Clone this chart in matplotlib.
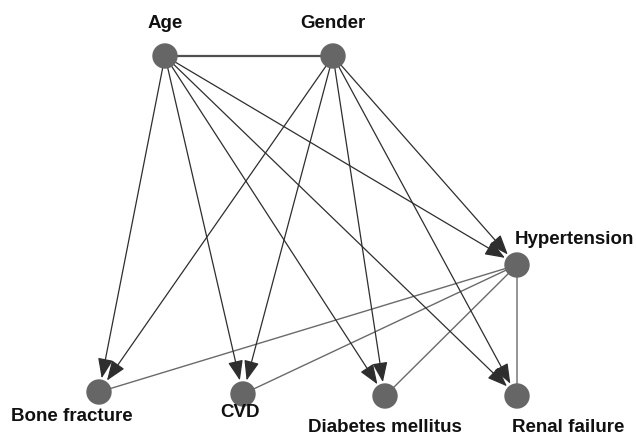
import matplotlib
matplotlib.use('Agg')
import matplotlib.pyplot as plt
from matplotlib.patches import FancyArrowPatch, Circle

plt.rcParams['font.family'] = ['Liberation Sans', 'DejaVu Sans']

# node layout (pixel positions)
nodes = ['Age', 'Gender', 'Hypertension', 'Bone fracture', 'CVD',
         'Diabetes mellitus', 'Renal failure']
node_x = [165, 333, 517, 99, 243, 385, 517]
node_y = [57, 57, 266, 393, 395, 397, 397]
label_x = [165, 333, 574, 72, 240, 385, 568]
label_y = [24, 24, 240, 417, 413, 428, 428]

# directed edges (with arrowhead) and plain edges
directed = [('Age', 'Bone fracture'), ('Age', 'CVD'), ('Age', 'Diabetes mellitus'),
            ('Age', 'Renal failure'), ('Age', 'Hypertension'),
            ('Gender', 'Bone fracture'), ('Gender', 'CVD'),
            ('Gender', 'Diabetes mellitus'), ('Gender', 'Renal failure'),
            ('Gender', 'Hypertension')]
undirected = [('Age', 'Gender'), ('Hypertension', 'Bone fracture'),
              ('Hypertension', 'CVD'), ('Hypertension', 'Diabetes mellitus'),
              ('Hypertension', 'Renal failure')]

pos = {n: (x, y) for n, x, y in zip(nodes, node_x, node_y)}
r = 12

fig = plt.figure(figsize=(6.36, 4.39), dpi=100)
ax = fig.add_axes([0, 0, 1, 1])
ax.set_xlim(0, 636)
ax.set_ylim(439, 0)
ax.axis('off')

pt = 0.72  # points per pixel at 100 dpi
for a, b in undirected:
    lw = 1.6 if a == 'Age' else 1.0
    col = '#505050' if a == 'Age' else '#6a6a6a'
    ax.add_patch(FancyArrowPatch(pos[a], pos[b], arrowstyle='-', color=col,
                                 lw=lw, shrinkA=0, shrinkB=0, zorder=1))
for a, b in directed:
    ax.add_patch(FancyArrowPatch(pos[a], pos[b],
                                 arrowstyle='-|>,head_length=%f,head_width=%f' % (17 * pt, 6.5 * pt),
                                 color='#2e2e2e', lw=0.9, shrinkA=r * pt, shrinkB=(r + 2) * pt,
                                 mutation_scale=1, zorder=2))

for n in nodes:
    ax.add_patch(Circle(pos[n], r, color='#666666', zorder=3))

for n, lx, ly in zip(nodes, label_x, label_y):
    ax.text(lx, ly, n, ha='center', va='center', fontsize=13.5,
            fontweight='bold', color='#111111')

fig.savefig('out.png', dpi=100)
